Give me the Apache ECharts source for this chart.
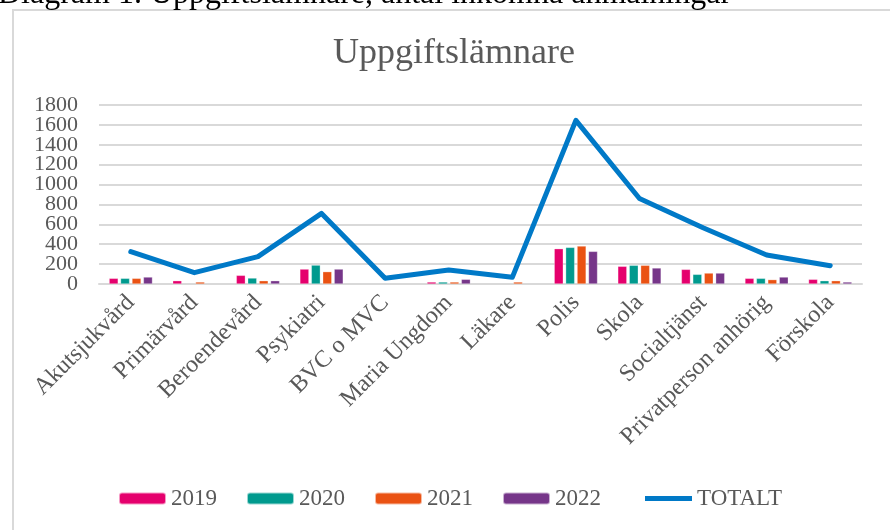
<!DOCTYPE html>
<html><head><meta charset="utf-8">
<script src="https://cdn.jsdelivr.net/npm/echarts@6/dist/echarts.min.js"></script>
<style>html,body{margin:0;padding:0;background:#fff}#c{width:890px;height:530px}</style>
</head><body><div id="c"></div>
<script>
const categories = ['Akutsjukvård','Primärvård','Beroendevård','Psykiatri','BVC o MVC','Maria Ungdom','Läkare','Polis','Skola','Socialtjänst','Privatperson anhörig','Förskola'];
const v2019 = [57, 33, 87, 150, null, 20, null, 355, 178, 147, 57, 47];
const v2020 = [57, null, 60, 190, null, 20, null, 368, 188, 97, 57, 33];
const v2021 = [57, 20, 33, 124, null, 20, 20, 382, 188, 110, 44, 33];
const v2022 = [70, null, 33, 150, null, 47, null, 328, 161, 110, 70, 20];
const totalt = [325, 114, 275, 710, 57, 140, 67, 1645, 860, 565, 291, 184];
const yTicks = [0, 200, 400, 600, 800, 1000, 1200, 1400, 1600, 1800];

const FONT = '"Liberation Serif", "Times New Roman", serif';
const GREY = '#595959';
const chart = echarts.init(document.getElementById('c'), null, {renderer: 'canvas'});
function bar(name, data, color) {
  return {name, type: 'bar', data, barWidth: 9, barGap: '27%',
    itemStyle: {color, borderColor: 'rgba(255,255,255,0.6)', borderWidth: 0.5}};
}
const legendText = {fontFamily: FONT, fontSize: 23, color: GREY};
// two label sets (alternating ticks) so that the tightly packed labels are all shown
const yEven = yTicks.filter((v, i) => i % 2 === 0);
const yOdd = yTicks.filter((v, i) => i % 2 === 1);
function yAxisDef(values, grid) {
  return {
    type: 'value', position: 'left', offset: 0,
    min: yTicks[0], max: yTicks[yTicks.length - 1], interval: 200,
    axisLine: {show: false}, axisTick: {show: false},
    splitLine: {show: grid, lineStyle: {color: '#d9d9d9', width: 2}},
    axisLabel: {fontFamily: FONT, fontSize: 22, color: GREY, margin: 21,
      customValues: values, showMinLabel: true, showMaxLabel: true,
      formatter: function (v) { return String(v); }}
  };
}
chart.setOption({
  animation: false,
  backgroundColor: '#fff',
  textStyle: {fontFamily: FONT},
  graphic: [
    {type: 'rect', shape: {x: 13, y: 10, width: 1000, height: 1000}, style: {fill: 'none', stroke: '#d9d9d9', lineWidth: 2}},
    {type: 'text', x: -2, y: -5, style: {text: 'Diagram 1. Uppgiftslämnare, antal inkomna anmälningar', font: '32px ' + FONT, fill: '#000', verticalAlign: 'middle'}},
    {type: 'text', x: 454, y: 54, style: {text: 'Uppgiftslämnare', font: '36px ' + FONT, fill: GREY, align: 'center', verticalAlign: 'middle'}}
  ],
  grid: {left: 99, right: 28, top: 105, bottom: 246, containLabel: false},
  legend: [
    {top: 482, left: 113, itemWidth: 47, itemHeight: 12, itemGap: 29, textStyle: legendText,
      data: ['2019', '2020', '2021', '2022']},
    {top: 482, left: 640, itemWidth: 47, itemHeight: 12, textStyle: legendText,
      data: [{name: 'TOTALT', icon: 'path://M0,0 H45 V5 H0 Z'}]}
  ],
  xAxis: {
    type: 'category', data: categories,
    axisLine: {lineStyle: {color: '#d9d9d9', width: 2}},
    axisTick: {show: false},
    axisLabel: {rotate: 45, interval: 0, fontFamily: FONT, fontSize: 24, color: GREY, margin: 15}
  },
  yAxis: [yAxisDef(yEven, true), yAxisDef(yOdd, false)],
  series: [
    bar('2019', v2019, '#E5006D'),
    bar('2020', v2020, '#009A8E'),
    bar('2021', v2021, '#EA5213'),
    bar('2022', v2022, '#763689'),
    {name: 'TOTALT', type: 'line', data: totalt, showSymbol: false, symbol: 'none',
      lineStyle: {color: '#0079C7', width: 5, cap: 'round', join: 'round'}, itemStyle: {color: '#0079C7'}}
  ]
});
</script></body></html>
